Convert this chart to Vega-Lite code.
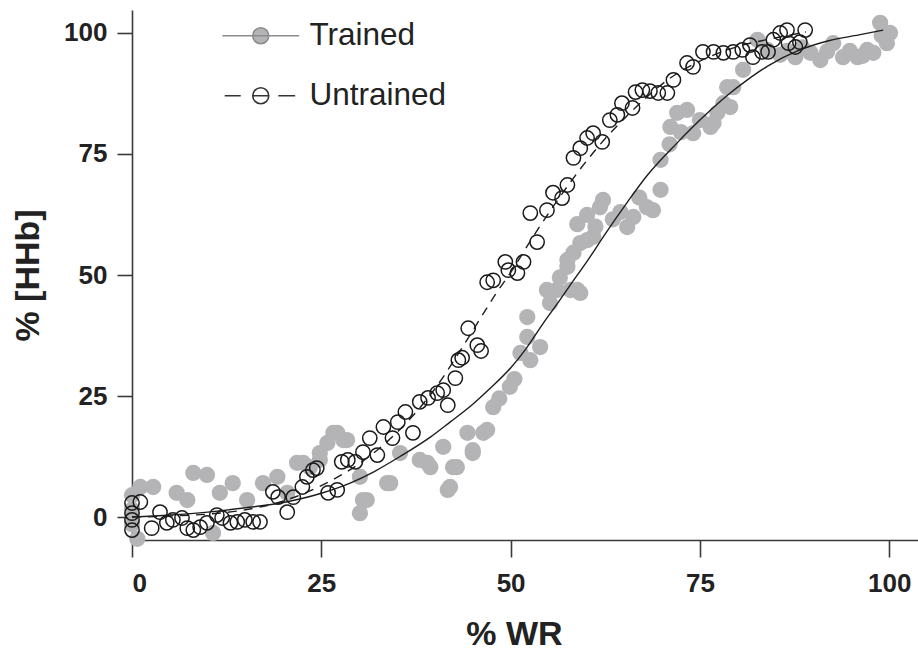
{
  "$schema": "https://vega.github.io/schema/vega-lite/v6.json",
  "width": 786,
  "height": 530,
  "autosize": {"type": "none"},
  "padding": {"left": 132, "top": 10, "right": 0, "bottom": 111},
  "background": "white",
  "config": {
    "view": {"stroke": null},
    "font": "Liberation Sans",
    "axis": {
      "grid": false,
      "domainColor": "#3a3a3a",
      "domainWidth": 1.6,
      "tickColor": "#3a3a3a",
      "tickWidth": 1.6,
      "labelFont": "Liberation Sans",
      "labelFontWeight": "bold",
      "labelFontSize": 26,
      "labelColor": "#222222",
      "titleFont": "Liberation Sans",
      "titleFontWeight": "bold",
      "titleFontSize": 34,
      "titleColor": "#222222"
    },
    "legend": {
      "orient": "none",
      "legendX": 113,
      "legendY": 10,
      "padding": 0,
      "labelFont": "Liberation Sans",
      "labelFontSize": 31.5,
      "labelColor": "#222222",
      "symbolSize": 256,
      "symbolStrokeWidth": 1.6,
      "labelOffset": 33,
      "rowPadding": 27
    }
  },
  "datasets": {
    "points": [
      {"group": "Untrained", "wr": 0, "hhb": 2.9},
      {"group": "Untrained", "wr": 0, "hhb": 0.8},
      {"group": "Untrained", "wr": 0, "hhb": -0.6},
      {"group": "Untrained", "wr": 0, "hhb": -2.7},
      {"group": "Untrained", "wr": 1.1, "hhb": 3.1},
      {"group": "Untrained", "wr": 3.7, "hhb": 1.0},
      {"group": "Untrained", "wr": 2.6, "hhb": -2.3},
      {"group": "Untrained", "wr": 4.6, "hhb": -1.2},
      {"group": "Untrained", "wr": 5.4, "hhb": -0.6},
      {"group": "Untrained", "wr": 6.6, "hhb": -0.2},
      {"group": "Untrained", "wr": 7.3, "hhb": -2.3},
      {"group": "Untrained", "wr": 8.1, "hhb": -2.7},
      {"group": "Untrained", "wr": 9.0, "hhb": -2.1},
      {"group": "Untrained", "wr": 9.9, "hhb": -1.2},
      {"group": "Untrained", "wr": 11.2, "hhb": 0.4},
      {"group": "Untrained", "wr": 11.9, "hhb": -0.2},
      {"group": "Untrained", "wr": 13.0, "hhb": -1.2},
      {"group": "Untrained", "wr": 13.9, "hhb": -1.0},
      {"group": "Untrained", "wr": 14.9, "hhb": -0.6},
      {"group": "Untrained", "wr": 16.0, "hhb": -1.0},
      {"group": "Untrained", "wr": 16.9, "hhb": -1.0},
      {"group": "Untrained", "wr": 18.6, "hhb": 5.2},
      {"group": "Untrained", "wr": 19.3, "hhb": 4.1},
      {"group": "Untrained", "wr": 20.5, "hhb": 1.0},
      {"group": "Untrained", "wr": 21.3, "hhb": 4.1},
      {"group": "Untrained", "wr": 22.5, "hhb": 6.2},
      {"group": "Untrained", "wr": 23.1, "hhb": 8.3},
      {"group": "Untrained", "wr": 23.9, "hhb": 9.7},
      {"group": "Untrained", "wr": 24.4, "hhb": 10.1},
      {"group": "Untrained", "wr": 25.9, "hhb": 5.0},
      {"group": "Untrained", "wr": 27.1, "hhb": 5.6},
      {"group": "Untrained", "wr": 27.7, "hhb": 11.4},
      {"group": "Untrained", "wr": 28.5, "hhb": 11.8},
      {"group": "Untrained", "wr": 29.5, "hhb": 11.4},
      {"group": "Untrained", "wr": 30.5, "hhb": 13.4},
      {"group": "Untrained", "wr": 31.4, "hhb": 16.3},
      {"group": "Untrained", "wr": 32.4, "hhb": 12.8},
      {"group": "Untrained", "wr": 33.2, "hhb": 18.6},
      {"group": "Untrained", "wr": 34.4, "hhb": 16.3},
      {"group": "Untrained", "wr": 35.1, "hhb": 19.6},
      {"group": "Untrained", "wr": 36.1, "hhb": 21.7},
      {"group": "Untrained", "wr": 37.1, "hhb": 17.4},
      {"group": "Untrained", "wr": 38.0, "hhb": 23.8},
      {"group": "Untrained", "wr": 39.1, "hhb": 24.6},
      {"group": "Untrained", "wr": 40.3, "hhb": 25.6},
      {"group": "Untrained", "wr": 41.1, "hhb": 26.2},
      {"group": "Untrained", "wr": 41.7, "hhb": 23.1},
      {"group": "Untrained", "wr": 42.7, "hhb": 28.7},
      {"group": "Untrained", "wr": 43.1, "hhb": 32.4},
      {"group": "Untrained", "wr": 43.6, "hhb": 32.9},
      {"group": "Untrained", "wr": 44.4, "hhb": 39.0},
      {"group": "Untrained", "wr": 45.6, "hhb": 35.5},
      {"group": "Untrained", "wr": 46.1, "hhb": 34.3},
      {"group": "Untrained", "wr": 46.9, "hhb": 48.5},
      {"group": "Untrained", "wr": 47.7, "hhb": 48.9},
      {"group": "Untrained", "wr": 49.3, "hhb": 52.7},
      {"group": "Untrained", "wr": 49.7, "hhb": 51.0},
      {"group": "Untrained", "wr": 50.9, "hhb": 50.4},
      {"group": "Untrained", "wr": 51.7, "hhb": 52.7},
      {"group": "Untrained", "wr": 52.6, "hhb": 62.8},
      {"group": "Untrained", "wr": 53.5, "hhb": 56.8},
      {"group": "Untrained", "wr": 54.8, "hhb": 63.4},
      {"group": "Untrained", "wr": 55.6, "hhb": 67.0},
      {"group": "Untrained", "wr": 56.8, "hhb": 65.9},
      {"group": "Untrained", "wr": 57.5, "hhb": 68.6},
      {"group": "Untrained", "wr": 58.3, "hhb": 74.2},
      {"group": "Untrained", "wr": 59.2, "hhb": 76.2},
      {"group": "Untrained", "wr": 60.1, "hhb": 78.3},
      {"group": "Untrained", "wr": 60.9, "hhb": 79.3},
      {"group": "Untrained", "wr": 62.1, "hhb": 77.5},
      {"group": "Untrained", "wr": 63.1, "hhb": 82.0},
      {"group": "Untrained", "wr": 64.1, "hhb": 83.1},
      {"group": "Untrained", "wr": 64.7, "hhb": 85.5},
      {"group": "Untrained", "wr": 66.1, "hhb": 84.5},
      {"group": "Untrained", "wr": 66.5, "hhb": 87.8},
      {"group": "Untrained", "wr": 67.4, "hhb": 88.2},
      {"group": "Untrained", "wr": 68.4, "hhb": 88.0},
      {"group": "Untrained", "wr": 69.5, "hhb": 87.6},
      {"group": "Untrained", "wr": 70.7, "hhb": 87.6},
      {"group": "Untrained", "wr": 71.5, "hhb": 90.3},
      {"group": "Untrained", "wr": 73.3, "hhb": 93.8},
      {"group": "Untrained", "wr": 74.1, "hhb": 93.0},
      {"group": "Untrained", "wr": 75.4, "hhb": 96.1},
      {"group": "Untrained", "wr": 76.8, "hhb": 96.1},
      {"group": "Untrained", "wr": 78.1, "hhb": 95.9},
      {"group": "Untrained", "wr": 79.4, "hhb": 96.1},
      {"group": "Untrained", "wr": 80.6, "hhb": 96.5},
      {"group": "Untrained", "wr": 81.6, "hhb": 97.5},
      {"group": "Untrained", "wr": 82.0, "hhb": 95.0},
      {"group": "Untrained", "wr": 83.2, "hhb": 96.1},
      {"group": "Untrained", "wr": 84.0, "hhb": 96.1},
      {"group": "Untrained", "wr": 84.7, "hhb": 98.6},
      {"group": "Untrained", "wr": 85.6, "hhb": 100.0},
      {"group": "Untrained", "wr": 86.5, "hhb": 100.6},
      {"group": "Untrained", "wr": 86.7, "hhb": 97.9},
      {"group": "Untrained", "wr": 87.6, "hhb": 97.1},
      {"group": "Untrained", "wr": 88.2, "hhb": 98.1},
      {"group": "Untrained", "wr": 88.9, "hhb": 100.6},
      {"group": "Trained", "wr": 0, "hhb": 4.5},
      {"group": "Trained", "wr": 0, "hhb": 1.5},
      {"group": "Trained", "wr": 0, "hhb": -1.5},
      {"group": "Trained", "wr": 0.7, "hhb": -4.5},
      {"group": "Trained", "wr": 1.1, "hhb": 6.2},
      {"group": "Trained", "wr": 2.8, "hhb": 6.2},
      {"group": "Trained", "wr": 5.9, "hhb": 5.0},
      {"group": "Trained", "wr": 7.3, "hhb": 3.5},
      {"group": "Trained", "wr": 8.1, "hhb": 9.1},
      {"group": "Trained", "wr": 9.9, "hhb": 8.7},
      {"group": "Trained", "wr": 10.7, "hhb": -3.3},
      {"group": "Trained", "wr": 11.6, "hhb": 5.0},
      {"group": "Trained", "wr": 13.3, "hhb": 7.0},
      {"group": "Trained", "wr": 15.2, "hhb": 3.5},
      {"group": "Trained", "wr": 17.3, "hhb": 7.0},
      {"group": "Trained", "wr": 19.2, "hhb": 8.3},
      {"group": "Trained", "wr": 20.5, "hhb": 5.0},
      {"group": "Trained", "wr": 21.8, "hhb": 11.2},
      {"group": "Trained", "wr": 22.6, "hhb": 11.2},
      {"group": "Trained", "wr": 23.5, "hhb": 10.3},
      {"group": "Trained", "wr": 24.8, "hhb": 11.8},
      {"group": "Trained", "wr": 24.8, "hhb": 13.2},
      {"group": "Trained", "wr": 25.8, "hhb": 15.3},
      {"group": "Trained", "wr": 26.6, "hhb": 17.4},
      {"group": "Trained", "wr": 27.1, "hhb": 17.4},
      {"group": "Trained", "wr": 27.9, "hhb": 15.9},
      {"group": "Trained", "wr": 28.4, "hhb": 15.9},
      {"group": "Trained", "wr": 30.1, "hhb": 8.3},
      {"group": "Trained", "wr": 30.1, "hhb": 0.8},
      {"group": "Trained", "wr": 30.5, "hhb": 3.5},
      {"group": "Trained", "wr": 31.0, "hhb": 3.5},
      {"group": "Trained", "wr": 33.7, "hhb": 7.0},
      {"group": "Trained", "wr": 34.1, "hhb": 7.0},
      {"group": "Trained", "wr": 35.4, "hhb": 13.2},
      {"group": "Trained", "wr": 38.0, "hhb": 11.8},
      {"group": "Trained", "wr": 39.0, "hhb": 11.2},
      {"group": "Trained", "wr": 39.4, "hhb": 10.3},
      {"group": "Trained", "wr": 41.1, "hhb": 14.5},
      {"group": "Trained", "wr": 41.7, "hhb": 5.6},
      {"group": "Trained", "wr": 42.0, "hhb": 6.2},
      {"group": "Trained", "wr": 42.4, "hhb": 10.3},
      {"group": "Trained", "wr": 42.9, "hhb": 10.3},
      {"group": "Trained", "wr": 44.3, "hhb": 17.4},
      {"group": "Trained", "wr": 45.0, "hhb": 13.2},
      {"group": "Trained", "wr": 45.0, "hhb": 13.8},
      {"group": "Trained", "wr": 46.4, "hhb": 17.4},
      {"group": "Trained", "wr": 46.9, "hhb": 18.0},
      {"group": "Trained", "wr": 47.7, "hhb": 22.7},
      {"group": "Trained", "wr": 48.5, "hhb": 24.5},
      {"group": "Trained", "wr": 49.9, "hhb": 26.9},
      {"group": "Trained", "wr": 50.5, "hhb": 28.5},
      {"group": "Trained", "wr": 51.3, "hhb": 33.9},
      {"group": "Trained", "wr": 52.2, "hhb": 37.2},
      {"group": "Trained", "wr": 52.6, "hhb": 32.4},
      {"group": "Trained", "wr": 53.9, "hhb": 35.1},
      {"group": "Trained", "wr": 52.2, "hhb": 41.3},
      {"group": "Trained", "wr": 55.2, "hhb": 44.2},
      {"group": "Trained", "wr": 54.8, "hhb": 46.9},
      {"group": "Trained", "wr": 56.1, "hhb": 46.9},
      {"group": "Trained", "wr": 56.5, "hhb": 49.5},
      {"group": "Trained", "wr": 57.9, "hhb": 46.9},
      {"group": "Trained", "wr": 58.8, "hhb": 46.9},
      {"group": "Trained", "wr": 59.2, "hhb": 46.3},
      {"group": "Trained", "wr": 57.5, "hhb": 51.7},
      {"group": "Trained", "wr": 57.5, "hhb": 53.1},
      {"group": "Trained", "wr": 58.3, "hhb": 54.6},
      {"group": "Trained", "wr": 59.2, "hhb": 56.6},
      {"group": "Trained", "wr": 60.1, "hhb": 57.2},
      {"group": "Trained", "wr": 60.9, "hhb": 57.9},
      {"group": "Trained", "wr": 58.8, "hhb": 60.5},
      {"group": "Trained", "wr": 61.2, "hhb": 60.0},
      {"group": "Trained", "wr": 60.1, "hhb": 62.4},
      {"group": "Trained", "wr": 61.8, "hhb": 64.0},
      {"group": "Trained", "wr": 62.2, "hhb": 65.5},
      {"group": "Trained", "wr": 63.5, "hhb": 61.5},
      {"group": "Trained", "wr": 64.5, "hhb": 63.0},
      {"group": "Trained", "wr": 65.4, "hhb": 59.9},
      {"group": "Trained", "wr": 66.2, "hhb": 62.0},
      {"group": "Trained", "wr": 67.0, "hhb": 66.0},
      {"group": "Trained", "wr": 68.0, "hhb": 64.0},
      {"group": "Trained", "wr": 68.8, "hhb": 63.4},
      {"group": "Trained", "wr": 69.8, "hhb": 67.6},
      {"group": "Trained", "wr": 69.8, "hhb": 73.8},
      {"group": "Trained", "wr": 71.0, "hhb": 77.0},
      {"group": "Trained", "wr": 71.1, "hhb": 80.6},
      {"group": "Trained", "wr": 72.0, "hhb": 83.5},
      {"group": "Trained", "wr": 72.5, "hhb": 79.5},
      {"group": "Trained", "wr": 73.3, "hhb": 84.1},
      {"group": "Trained", "wr": 74.1, "hhb": 79.3},
      {"group": "Trained", "wr": 75.0, "hhb": 82.0},
      {"group": "Trained", "wr": 76.4, "hhb": 80.6},
      {"group": "Trained", "wr": 76.8, "hhb": 81.4},
      {"group": "Trained", "wr": 77.3, "hhb": 83.5},
      {"group": "Trained", "wr": 78.1, "hhb": 85.5},
      {"group": "Trained", "wr": 78.6, "hhb": 88.8},
      {"group": "Trained", "wr": 79.0, "hhb": 84.7},
      {"group": "Trained", "wr": 79.4, "hhb": 88.8},
      {"group": "Trained", "wr": 80.7, "hhb": 92.4},
      {"group": "Trained", "wr": 82.6, "hhb": 98.6},
      {"group": "Trained", "wr": 83.9, "hhb": 96.5},
      {"group": "Trained", "wr": 85.6, "hhb": 95.5},
      {"group": "Trained", "wr": 86.5, "hhb": 96.3},
      {"group": "Trained", "wr": 87.6, "hhb": 95.0},
      {"group": "Trained", "wr": 88.5, "hhb": 97.0},
      {"group": "Trained", "wr": 89.6, "hhb": 95.9},
      {"group": "Trained", "wr": 90.9, "hhb": 94.4},
      {"group": "Trained", "wr": 91.8, "hhb": 96.2},
      {"group": "Trained", "wr": 92.6, "hhb": 97.9},
      {"group": "Trained", "wr": 93.9, "hhb": 95.0},
      {"group": "Trained", "wr": 94.8, "hhb": 96.3},
      {"group": "Trained", "wr": 95.8, "hhb": 95.0},
      {"group": "Trained", "wr": 96.5, "hhb": 95.3},
      {"group": "Trained", "wr": 97.1, "hhb": 96.5},
      {"group": "Trained", "wr": 97.9, "hhb": 95.9},
      {"group": "Trained", "wr": 98.8, "hhb": 102.1},
      {"group": "Trained", "wr": 99.0, "hhb": 99.5},
      {"group": "Trained", "wr": 99.7, "hhb": 97.9},
      {"group": "Trained", "wr": 100.1, "hhb": 100.0}
    ],
    "fits": [
      {"group": "Trained", "wr": 0, "hhb": 0},
      {"group": "Trained", "wr": 5, "hhb": 0.4},
      {"group": "Trained", "wr": 10, "hhb": 1.0},
      {"group": "Trained", "wr": 15, "hhb": 1.9},
      {"group": "Trained", "wr": 20, "hhb": 3.0},
      {"group": "Trained", "wr": 25, "hhb": 4.9},
      {"group": "Trained", "wr": 28.8, "hhb": 7.0},
      {"group": "Trained", "wr": 32, "hhb": 9.4},
      {"group": "Trained", "wr": 35.4, "hhb": 12.5},
      {"group": "Trained", "wr": 39.4, "hhb": 16.5},
      {"group": "Trained", "wr": 42, "hhb": 19.6},
      {"group": "Trained", "wr": 45, "hhb": 23.3},
      {"group": "Trained", "wr": 47.3, "hhb": 26.6},
      {"group": "Trained", "wr": 50, "hhb": 30.8},
      {"group": "Trained", "wr": 52, "hhb": 34.7},
      {"group": "Trained", "wr": 54.3, "hhb": 40.0},
      {"group": "Trained", "wr": 56.5, "hhb": 44.8},
      {"group": "Trained", "wr": 58, "hhb": 48.2},
      {"group": "Trained", "wr": 60, "hhb": 52.6},
      {"group": "Trained", "wr": 62.5, "hhb": 58.5},
      {"group": "Trained", "wr": 65.4, "hhb": 65.0},
      {"group": "Trained", "wr": 68, "hhb": 70.5},
      {"group": "Trained", "wr": 72, "hhb": 77.3},
      {"group": "Trained", "wr": 75, "hhb": 82.0},
      {"group": "Trained", "wr": 79, "hhb": 87.6},
      {"group": "Trained", "wr": 81, "hhb": 90.0},
      {"group": "Trained", "wr": 84, "hhb": 93.2},
      {"group": "Trained", "wr": 88.2, "hhb": 96.5},
      {"group": "Trained", "wr": 92, "hhb": 98.4},
      {"group": "Trained", "wr": 96, "hhb": 99.6},
      {"group": "Trained", "wr": 99.2, "hhb": 100.6},
      {"group": "Untrained", "wr": 0, "hhb": 0},
      {"group": "Untrained", "wr": 5, "hhb": 0.2},
      {"group": "Untrained", "wr": 10, "hhb": 0.6},
      {"group": "Untrained", "wr": 15, "hhb": 1.5},
      {"group": "Untrained", "wr": 20, "hhb": 3.3},
      {"group": "Untrained", "wr": 25, "hhb": 6.5},
      {"group": "Untrained", "wr": 30, "hhb": 11.0},
      {"group": "Untrained", "wr": 35, "hhb": 17.5},
      {"group": "Untrained", "wr": 40, "hhb": 26.5},
      {"group": "Untrained", "wr": 43, "hhb": 33.5},
      {"group": "Untrained", "wr": 45, "hhb": 38.5},
      {"group": "Untrained", "wr": 46.5, "hhb": 42.3},
      {"group": "Untrained", "wr": 48, "hhb": 46.0},
      {"group": "Untrained", "wr": 50, "hhb": 50.5},
      {"group": "Untrained", "wr": 53, "hhb": 58.0},
      {"group": "Untrained", "wr": 56, "hhb": 65.0},
      {"group": "Untrained", "wr": 59, "hhb": 71.5},
      {"group": "Untrained", "wr": 62, "hhb": 77.3},
      {"group": "Untrained", "wr": 65, "hhb": 82.3},
      {"group": "Untrained", "wr": 68, "hhb": 86.8},
      {"group": "Untrained", "wr": 71, "hhb": 90.6},
      {"group": "Untrained", "wr": 75, "hhb": 94.2},
      {"group": "Untrained", "wr": 80, "hhb": 97.2},
      {"group": "Untrained", "wr": 85, "hhb": 99.0},
      {"group": "Untrained", "wr": 89, "hhb": 100.2}
    ]
  },
  "encoding": {
    "x": {
      "field": "wr",
      "type": "quantitative",
      "scale": {"domain": [0, 103.8], "nice": false, "zero": false},
      "axis": {
        "title": "% WR",
        "values": [0, 25, 50, 75, 100],
        "tickSize": 17,
        "labelPadding": 13,
        "titlePadding": 21,
        "titleX": 382
      }
    },
    "y": {
      "field": "hhb",
      "type": "quantitative",
      "scale": {"domain": [-4.75, 104.75], "nice": false, "zero": false},
      "axis": {
        "title": "% [HHb]",
        "values": [0, 25, 50, 75, 100],
        "tickSize": 15,
        "labelPadding": 10,
        "titlePadding": 18
      }
    }
  },
  "layer": [
    {
      "data": {"name": "points"},
      "transform": [{"filter": "datum.group === 'Trained'"}],
      "mark": {"type": "point", "shape": "circle", "filled": true, "fill": "#b4b4b6", "stroke": null, "opacity": 1, "size": 265, "clip": false}
    },
    {
      "data": {"name": "fits"},
      "transform": [{"filter": "datum.group === 'Trained'"}],
      "mark": {"type": "line", "color": "#1e1e1e", "strokeWidth": 1.4, "interpolate": "monotone"}
    },
    {
      "data": {"name": "fits"},
      "transform": [{"filter": "datum.group === 'Untrained'"}],
      "mark": {"type": "line", "color": "#1e1e1e", "strokeWidth": 1.4, "strokeDash": [9, 7], "interpolate": "monotone"}
    },
    {
      "data": {"name": "points"},
      "transform": [{"filter": "datum.group === 'Untrained'"}],
      "mark": {"type": "point", "shape": "circle", "filled": false, "fill": null, "stroke": "#1a1a1a", "strokeWidth": 1.5, "opacity": 1, "size": 205, "clip": false}
    },
    {
      "data": {"name": "points"},
      "transform": [{"filter": "datum.group === 'none'"}],
      "mark": {"type": "point", "filled": true, "opacity": 1},
      "encoding": {
        "shape": {
          "field": "group",
          "type": "nominal",
          "scale": {
            "domain": ["Trained", "Untrained"],
            "range": [
              "M-4.8,0H4.8M-1,0A1,1,0,1,1,1,0A1,1,0,1,1,-1,0Z",
              "M-4.5,0H-2.5M-1,0H1M2.2,0H4.3M-1,0A1,1,0,1,1,1,0A1,1,0,1,1,-1,0Z"
            ]
          },
          "legend": {"title": null}
        },
        "fill": {
          "field": "group",
          "type": "nominal",
          "scale": {"domain": ["Trained", "Untrained"], "range": ["#b4b4b6", "transparent"]},
          "legend": {"title": null}
        },
        "stroke": {
          "field": "group",
          "type": "nominal",
          "scale": {"domain": ["Trained", "Untrained"], "range": ["#8c8c8c", "#333333"]},
          "legend": {"title": null}
        }
      }
    }
  ]
}
